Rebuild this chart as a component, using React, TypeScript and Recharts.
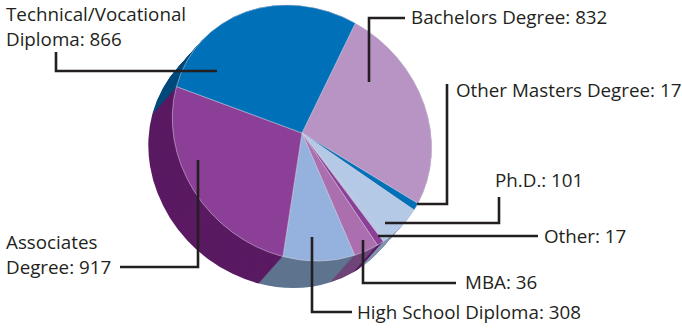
import React from "react";
import { PieChart, Pie, Cell, Sector } from "recharts";

const sliceNames = ["Bachelors Degree", "Other Masters Degree", "Ph.D.", "Other", "Unlabelled", "MBA", "High School Diploma", "Associates", "Technical/Vocational Diploma"];
const labelValues = [832, 17, 101, 17, 0, 36, 308, 917, 866];
// Drawn share of the circle in degrees
const drawnShares = [92.4, 3.6, 18.9, 2, 3.3, 11.6, 32.4, 96.1, 99.7];
const topColors = ["#B794C4", "#0070B9", "#B3C9E6", "#B3C9E6", "#8C3F96", "#AB6FB0", "#94B2DD", "#8C3F96", "#0070B9"];
const sideColors = ["#7C5A8C", "#004B7C", "#8094B0", "#8094B0", "#5A1A62", "#6F4679", "#5E748F", "#5A1A62", "#004B7C"];
const data = sliceNames.map((name, i) => ({ name, value: drawnShares[i], shown: labelValues[i] }));

const depthSteps = Array.from({ length: 28 }, (_, i) => 27 - i);

type Lead = { lines: string[]; tx: number; ty: number; gap: number; path: string };
const leaders: Record<string, Lead> = {
  "Bachelors Degree": { lines: ["Bachelors Degree: 832"], tx: 411, ty: 24, gap: 0, path: "M405 18H369V82" },
  "Other Masters Degree": { lines: ["Other Masters Degree: 17"], tx: 456, ty: 97, gap: 0, path: "M447 84V204H417" },
  "Ph.D.": { lines: ["Ph.D.: 101"], tx: 495, ty: 187, gap: 0, path: "M499 197V223H385" },
  Other: { lines: ["Other: 17"], tx: 544, ty: 243, gap: 0, path: "M538 236H378" },
  MBA: { lines: ["MBA: 36"], tx: 465, ty: 289, gap: 0, path: "M363 240V283H456" },
  "High School Diploma": { lines: ["High School Diploma: 308"], tx: 357, ty: 319, gap: 0, path: "M312 237V312H352" },
  Associates: { lines: ["Associates", "Degree: 917"], tx: 6, ty: 249, gap: 25, path: "M198 160V267H120" },
  "Technical/Vocational Diploma": { lines: ["Technical/Vocational", "Diploma: 866"], tx: 6, ty: 21, gap: 25, path: "M56 52V71H217" },
};

const renderLabel = (p: any) => {
  const lead = leaders[p.name];
  if (!lead) return <g />;
  return (
    <g>
      <path d={lead.path} fill="none" stroke="#231F20" strokeWidth={2.6} />
      <text fontFamily="'Open Sans'" fontSize={18.8} fill="#231F20" x={lead.tx} y={lead.ty}>
        {lead.lines.map((l, i) => (
          <tspan key={i} x={lead.tx} y={lead.ty + i * lead.gap}>{l}</tspan>
        ))}
      </text>
    </g>
  );
};

// The disc in the picture is a slightly tilted ellipse
const tiltedSector = (props: any) => {
  const { cx, cy } = props;
  return (
    <g transform={`translate(${cx} ${cy}) matrix(0.996 0.058 0.058 0.983 0 0) translate(${-cx} ${-cy})`}>
      <Sector {...props} />
    </g>
  );
};

export default function App() {
  return (
    <div style={{ position: "absolute", left: 0, top: 0, background: "#fff" }}>
      <PieChart width={682} height={328} margin={{ top: 0, right: 0, bottom: 0, left: 0 }}>
        {depthSteps.map((d) => (
          <Pie key={d} data={data} dataKey="value" nameKey="name" cx={302 - (d * 24) / 27} cy={133 + d} outerRadius={130}
            startAngle={62.4} endAngle={-297.6} stroke="none" shape={tiltedSector} isAnimationActive={false}>
            {sideColors.map((c, i) => <Cell key={i} fill={c} stroke="none" />)}
          </Pie>
        ))}
        <Pie data={data} dataKey="value" nameKey="name" cx={302} cy={133} outerRadius={130}
          startAngle={62.4} endAngle={-297.6} shape={tiltedSector} isAnimationActive={false} label={renderLabel} labelLine={false}>
          {topColors.map((c, i) => <Cell key={i} fill={c} stroke="#D9D3E3" strokeWidth={0.5} />)}
        </Pie>
      </PieChart>
    </div>
  );
}
